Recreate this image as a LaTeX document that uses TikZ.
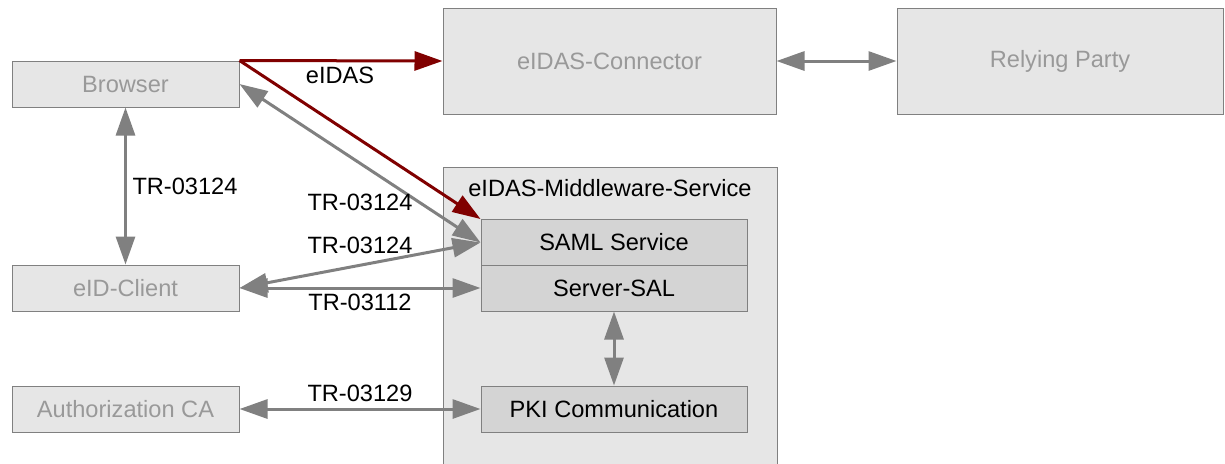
\documentclass[tikz,border=0pt]{standalone}
\usepackage{fontspec}
\setmainfont{Liberation Sans}
\usetikzlibrary{arrows.meta}
\definecolor{boxfill}{RGB}{230,230,230}
\definecolor{innerfill}{RGB}{212,212,212}
\definecolor{boxline}{RGB}{128,128,128}
\definecolor{boxtext}{RGB}{153,153,153}
\definecolor{pfeil}{RGB}{128,128,128}
\definecolor{rot}{RGB}{128,0,0}
\begin{document}
\begin{tikzpicture}[x=0.5pt,y=-0.5pt,
        font=\fontsize{11.8}{14}\selectfont,
        outer/.style={draw=boxline,fill=boxfill,text=boxtext,line width=0.5pt,inner sep=0pt},
        inner/.style={draw=boxline,fill=innerfill,text=black,line width=0.5pt,inner sep=0pt,minimum width=133pt,minimum height=23pt},
        link/.style={pfeil,line width=1.5pt,{Triangle[length=14pt,width=9.5pt]}-{Triangle[length=14pt,width=9.5pt]}},
        redlink/.style={rot,line width=1.5pt,-{Triangle[length=14pt,width=9.5pt]}}]
        \useasboundingbox (0,0) rectangle (1225,463);
        \node[outer,minimum width=113.5pt,minimum height=23pt] (B) at (125.5,84) {Browser};
        \node[outer,minimum width=166.5pt,minimum height=53pt] (C) at (609.5,61) {eIDAS-Connector};
        \node[outer,minimum width=163pt,minimum height=53pt] (R) at (1060,61) {Relying Party};
        \node[outer,minimum width=113.5pt,minimum height=23pt] (E) at (125.5,288) {eID-Client};
        \node[outer,minimum width=113.5pt,minimum height=23pt] (A) at (125.5,409) {Authorization CA};
        \node[outer,minimum width=167pt,minimum height=153pt] (M) at (610,320) {};
        \node[text=black] (Mlabel) at (610,188) {eIDAS-Middleware-Service};
        \node[inner] (S) at (614,242.5) {SAML Service};
        \node[inner] (L) at (614,288) {Server-SAL};
        \node[inner] (P) at (614,409) {PKI Communication};

        \draw[link] (C) -- (R);
        \draw[link] (B) -- (E);
        \draw[link] (B.east) -- (S.west);
        \draw[link] (E.east) -- (S.west);
        \draw[link] (E.east) -- (L.west);
        \draw[link] (A) -- (P);
        \draw[link] (L) -- (P);
        \draw[redlink] (B.north east) -- (C.west);
        \draw[redlink] (B.north east) -- (S.north west);

        \node (eidas) at (340,75) {eIDAS};
        \node (tr1) at (185,186) {TR-03124};
        \node (tr2) at (360,202) {TR-03124};
        \node (tr3) at (360,245) {TR-03124};
        \node (tr4) at (360,302) {TR-03112};
        \node (tr5) at (360,393) {TR-03129};
\end{tikzpicture}
\end{document}
